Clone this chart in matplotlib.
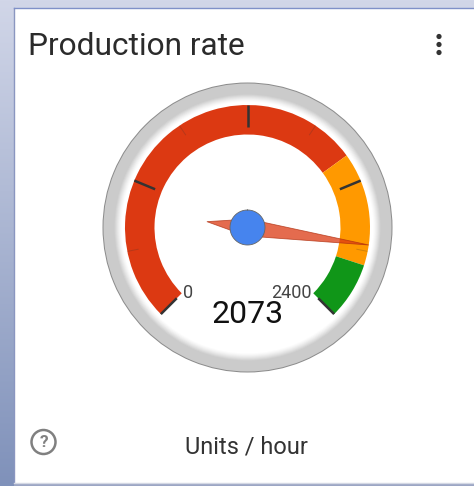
import numpy as np
import matplotlib
matplotlib.use("Agg")
import matplotlib.pyplot as plt
from matplotlib.patches import Rectangle, Circle

plt.rcParams['font.family'] = ['Roboto', 'DejaVu Sans']

title = "Production rate"
units = "Units / hour"
value = 2073
gauge_min = 0
gauge_max = 2400
band_edges = [0, 1680, 2160, 2400]
band_colors = ["#dc3912", "#ff9900", "#109618"]
major_ticks = [0, 600, 1200, 1800, 2400]
minor_ticks = [300, 900, 1500, 2100]

W, H = 474, 486
cx, cy = 247.5, 227.5
r_box = 148

def to_theta(v):
    # 270 degree sweep, 0 at lower left
    return np.radians(-135 + 270 * (v - gauge_min) / (gauge_max - gauge_min))

fig = plt.figure(figsize=(W / 100, H / 100), dpi=100)

# page background + card, in pixel coords
bg = fig.add_axes([0, 0, 1, 1])
bg.set_xlim(0, W)
bg.set_ylim(H, 0)
bg.axis("off")
grad = np.linspace(0, 1, 256).reshape(-1, 1)
top = np.array([0.82, 0.84, 0.91])
bot = np.array([0.50, 0.57, 0.73])
bg.imshow(top + (bot - top) * grad[..., None], extent=[0, W, H, 0], aspect="auto", zorder=0)
bg.add_patch(Rectangle((14, 483), W, 3, fc="#9ca6c4", ec="none", zorder=0.5))
bg.add_patch(Rectangle((14, 8.5), W, 474.5, fc="white", ec="none", zorder=1))
bg.plot([14, 14], [8.5, 483], color="#8a96c0", lw=1, zorder=2)
bg.plot([14, W], [8.5, 8.5], color="#7f90c8", lw=1, zorder=2)
bg.plot([14, W], [483, 483], color="#d4d8e4", lw=1, zorder=2)

bg.text(28, 46.5, title, fontsize=22.8, color="#2b2b2b", va="center", ha="left", zorder=3)
for yy in [36.5, 44.5, 52.5]:
    bg.add_patch(Circle((439, yy), 2.6, fc="#333333", ec="none", zorder=3))
bg.add_patch(Circle((43.5, 442), 12, fc="none", ec="#808080", lw=1.8, zorder=3))
bg.text(43.5, 442, "?", fontsize=12.5, color="#808080", ha="center", va="center", zorder=3, fontweight="bold")
bg.text(246.5, 447, units, fontsize=17, color="#333333", ha="center", va="center", zorder=3)

# gauge
ax = fig.add_axes([(cx - r_box) / W, 1 - (cy + r_box) / H, 2 * r_box / W, 2 * r_box / H],
                  projection="polar")
ax.patch.set_alpha(0)
ax.set_theta_zero_location("N")
ax.set_theta_direction(-1)
ax.set_ylim(0, r_box)
ax.axis("off")

ax.bar(0, 145, width=2 * np.pi, bottom=0, color="#8c8c8c", lw=0, zorder=1)
ax.bar(0, 144, width=2 * np.pi, bottom=0, color="#cbcbcb", lw=0, zorder=1.01)
# soft inner edge of the ring
fade = [(133, "#d2d2d2"), (132, "#dadada"), (131, "#e2e2e2"), (130, "#e9e9e9"),
        (129, "#f0f0f0"), (128, "#f6f6f6"), (127, "#fbfbfb"), (126, "white")]
for k, (r, c) in enumerate(fade):
    ax.bar(0, r, width=2 * np.pi, bottom=0, color=c, lw=0, zorder=1.1 + k * 0.01)

for i, c in enumerate(band_colors):
    t0, t1 = to_theta(band_edges[i]), to_theta(band_edges[i + 1])
    ax.bar((t0 + t1) / 2, 29.5, width=t1 - t0, bottom=93, color=c, lw=0, zorder=2)

for v in major_ticks:
    t = to_theta(v)
    ax.plot([t, t], [100, 122.5], color="#333333", lw=1.8, zorder=3, solid_capstyle="butt")
for v in minor_ticks:
    t = to_theta(v)
    ax.plot([t, t], [111, 122.5], color="#333333", lw=0.7, alpha=0.22, zorder=3, solid_capstyle="butt")

# needle
t = to_theta(value)
ax.fill(t + np.array([0, np.pi / 2, np.pi, -np.pi / 2]), [122.5, 8.5, 41, 8.5],
        fc="#dc3912", ec="#b03010", lw=0.6, alpha=0.75, zorder=4)
ax.bar(0, 17.5, width=2 * np.pi, bottom=0, color="#4684ee", lw=0, zorder=5)
ring = np.linspace(0, 2 * np.pi, 100)
ax.plot(ring, np.full(100, 17.5), color="#666666", lw=0.6, zorder=5.1)

# labels placed in pixel coords, on top of the gauge
over = fig.add_axes([0, 0, 1, 1], zorder=10)
over.set_xlim(0, W)
over.set_ylim(H, 0)
over.axis("off")
over.patch.set_alpha(0)
over.text(188, 293, str(gauge_min), fontsize=13, color="#444444", ha="center", va="center")
over.text(291, 293, str(gauge_max), fontsize=13, color="#444444", ha="center", va="center")
over.text(247.5, 314.5, str(value), fontsize=23, color="#111111", ha="center", va="center")

fig.savefig("out.png", dpi=100)
